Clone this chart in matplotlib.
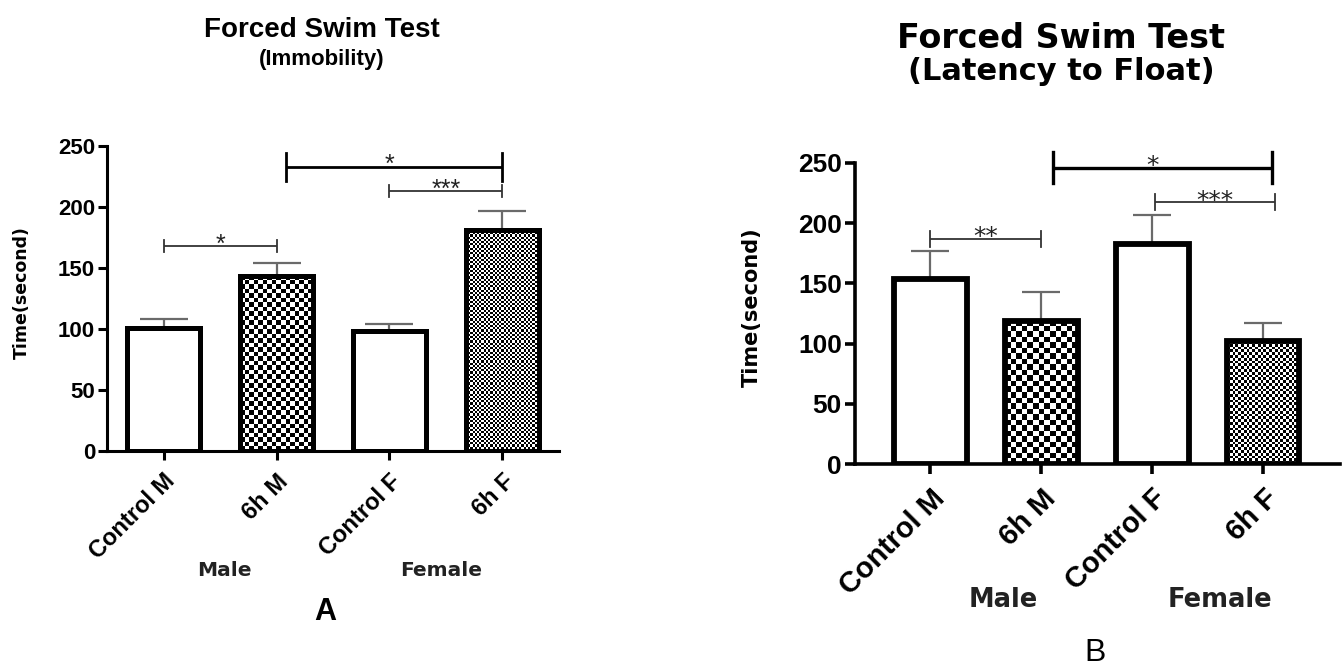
import numpy as np
import matplotlib
matplotlib.use('Agg')
import matplotlib.pyplot as plt

plt.rcParams['font.family'] = ['Liberation Sans', 'DejaVu Sans']

W, H = 1342, 666

groups = ['Control M', '6h M', 'Control F', '6h F']
sexes = ['Male', 'Female']

# Panel A - immobility (s), mean and upper SEM
immob_mean = [101, 143.5, 98.5, 181]
immob_sem = [7, 10.5, 5.5, 16]
immob_sig = [(0, 1, 168, '*'), (1.08, 3, 233, '*'), (2, 3, 213, '***')]

# Panel B - latency to float (s)
float_mean = [154, 119, 182.5, 102]
float_sem = [23, 24, 24.5, 15]
float_sig = [(0, 1, 187, '**'), (1.1, 3.08, 246, '*'), (2.02, 3.1, 217.5, '***')]

fills = [None, 'coarse', None, 'fine']


def fx(px):
    return px / W


def fy(py):
    return 1 - py / H


def checker(ax, bar, cell):
    x0, y0 = bar.get_x(), bar.get_y()
    w, h = bar.get_width(), bar.get_height()
    p0 = ax.transData.transform((x0, y0))
    p1 = ax.transData.transform((x0 + w, y0 + h))
    nx = max(1, int(round((p1[0] - p0[0]) / cell)))
    ny = max(1, int(round((p1[1] - p0[1]) / cell)))
    grid = np.add.outer(np.arange(ny), np.arange(nx)) % 2
    im = ax.imshow(grid, cmap='gray', extent=(x0, x0 + w, y0, y0 + h),
                   interpolation='nearest', aspect='auto', zorder=2.5)
    im.set_clip_path(bar)


def panel(rect, means, sems, sig, xlim, st):
    ax = fig.add_axes(rect)
    ax.set_xlim(*xlim)
    ax.set_ylim(0, 250)
    x = np.arange(len(means))
    bars = ax.bar(x, means, width=st['bw'], facecolor='white', edgecolor='black',
                  linewidth=st['blw'], zorder=3)
    ax.errorbar(x, means, yerr=[np.zeros(len(sems)), sems], fmt='none',
                ecolor='#6a6a6a', elinewidth=1.6, capsize=st['cap'], capthick=1.6,
                zorder=2)
    for b, f in zip(bars, fills):
        if f is not None:
            b.set_facecolor('none')
            checker(ax, b, st[f])
    ax.set_xlim(*xlim)
    ax.set_ylim(0, 250)

    for x1, x2, y, lab in sig:
        big = (x2 - x1) > 1.5
        lw = st['lw_big'] if big else 1.3
        col = 'black' if big else '#333333'
        t = st['t_big'] if big else st['t_small']
        ax.plot([x1, x2], [y, y], color=col, lw=lw, clip_on=False, solid_capstyle='butt')
        for xe in (x1, x2):
            ax.plot([xe, xe], [y - t, y + t], color=col, lw=lw, clip_on=False)
        ax.annotate(lab, ((x1 + x2) / 2 if not big else 2.0, y), xytext=(0, st['soff']),
                    textcoords='offset points', ha='center', va='baseline',
                    fontsize=st['sfs'], color='#222222', family=st['sfam'],
                    annotation_clip=False)

    for s in ('top', 'right'):
        ax.spines[s].set_visible(False)
    for s in ('left', 'bottom'):
        ax.spines[s].set_linewidth(st['alw'])
    ax.set_yticks([0, 50, 100, 150, 200, 250])
    ax.tick_params(axis='both', width=st['alw'], length=st['tl'])
    ax.tick_params(axis='y', labelsize=st['yfs'], pad=2)
    ax.tick_params(axis='x', pad=st['xpad'])
    ax.set_xticks(x)
    ax.set_xticklabels(groups, rotation=45, ha='right', rotation_mode='anchor',
                       fontsize=st['xfs'], fontweight='bold')
    for t in ax.get_yticklabels():
        t.set_fontweight('bold')
    return ax


fig = plt.figure(figsize=(W / 100, H / 100), dpi=100)

stA = dict(bw=0.64, blw=3.6, cap=17, coarse=4.5, fine=2.2, lw_big=2.0, t_big=11.5,
           t_small=5, soff=-4, sfs=18, sfam='Liberation Sans', alw=2.2, tl=6.5,
           yfs=16, xfs=17, xpad=7)
axA = panel([fx(107), fy(451), fx(559) - fx(107), fy(146) - fy(451)],
            immob_mean, immob_sem, immob_sig, (-0.5, 3.5), stA)

stB = dict(bw=0.65, blw=4.2, cap=13.5, coarse=5.5, fine=2.8, lw_big=2.4, t_big=13,
           t_small=6.5, soff=-4, sfs=18, sfam='DejaVu Sans', alw=2.6, tl=7.5,
           yfs=19, xfs=21, xpad=7)
axB = panel([fx(855), fy(464), fx(1340) - fx(855), fy(163) - fy(464)],
            float_mean, float_sem, float_sig, (-0.68, 3.69), stB)

# titles and labels
fig.text(fx(322), fy(30), 'Forced Swim Test', ha='center', va='center',
         fontsize=20, fontweight='bold')
fig.text(fx(322), fy(60), '(Immobility)', ha='center', va='center',
         fontsize=16, fontweight='bold')
fig.text(fx(1061), fy(38), 'Forced Swim Test', ha='center', va='center',
         fontsize=24, fontweight='bold', family='DejaVu Sans')
fig.text(fx(1061), fy(72), '(Latency to Float)', ha='center', va='center',
         fontsize=22, fontweight='bold', family='DejaVu Sans')

fig.text(fx(22), fy(293), 'Time(second)', rotation=90, ha='center', va='center',
         fontsize=12.5, fontweight='bold', family='DejaVu Sans')
fig.text(fx(752), fy(307), 'Time(second)', rotation=90, ha='center', va='center',
         fontsize=15, fontweight='bold', family='DejaVu Sans')

fig.text(fx(224), fy(571), sexes[0], ha='center', va='center', fontsize=14.5,
         fontweight='bold', family='DejaVu Sans', color='#222222')
fig.text(fx(441), fy(571), sexes[1], ha='center', va='center', fontsize=14.5,
         fontweight='bold', family='DejaVu Sans', color='#222222')
fig.text(fx(1003), fy(600), sexes[0], ha='center', va='center', fontsize=18.5,
         fontweight='bold', family='DejaVu Sans', color='#222222')
fig.text(fx(1220), fy(600), sexes[1], ha='center', va='center', fontsize=18.5,
         fontweight='bold', family='DejaVu Sans', color='#222222')

fig.text(fx(325), fy(612), 'A', ha='center', va='center', fontsize=22, fontweight='bold')
fig.text(fx(1095), fy(653), 'B', ha='center', va='center', fontsize=23)

fig.savefig('out.png', dpi=100)
